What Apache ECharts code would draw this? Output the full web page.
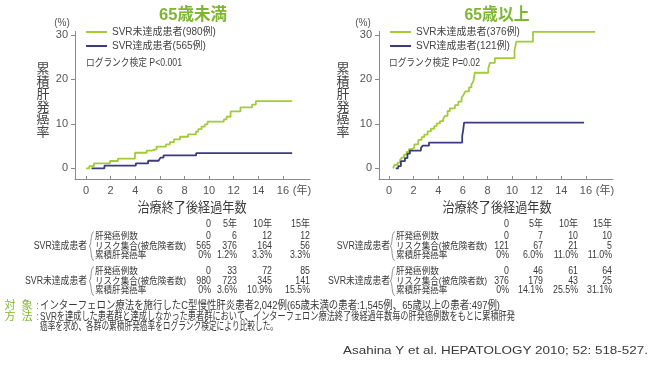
<!DOCTYPE html>
<html><head><meta charset="utf-8">
<script src="https://cdn.jsdelivr.net/npm/echarts@6/dist/echarts.min.js"></script>
<style>html,body{margin:0;padding:0;background:#fff}#c{width:650px;height:368px}</style>
</head><body><div id="c"></div>
<script>
// ---------- data ----------
const xTicks = [0, 2, 4, 6, 8, 10, 12, 14, 16];
const yTicks = [0, 10, 20, 30];
// [years, cumulative incidence %]
const under65NonSVR = [[0,0],[0.27,0.5],[0.65,1.1],[1.95,1.65],[2.6,2.2],[3.98,3.5],[4.93,4.0],[5.33,4.3],[5.74,4.9],[6.5,5.4],[6.82,5.9],[7.15,6.5],[7.63,7.1],[8.3,7.65],[8.93,8.25],[9.12,8.8],[9.39,9.4],[9.66,9.9],[9.88,10.5],[11.2,11.0],[11.42,11.6],[11.75,12.8],[12.55,13.7],[13.5,14.35],[13.8,15.1],[16.75,15.1]];
const under65SVR = [[0.45,0],[1.5,0.6],[4.05,1.1],[5.05,1.7],[5.9,2.1],[6.05,2.4],[6.3,2.9],[8.95,3.4],[16.75,3.4]];
const over65NonSVR = [[0.33,0],[0.45,0.8],[0.7,1.3],[0.9,1.9],[1.05,2.4],[1.22,3.1],[1.43,3.7],[1.62,4.3],[1.84,4.7],[2.06,5.4],[2.38,6.4],[2.65,7.0],[2.87,7.6],[3.14,8.3],[3.41,8.9],[3.68,9.5],[3.87,10.1],[4.14,10.6],[4.41,11.2],[4.55,11.8],[4.76,12.9],[4.95,13.5],[5.36,14.2],[5.63,15.0],[5.9,15.9],[6.05,16.5],[6.2,17.3],[6.5,18.2],[6.7,18.9],[6.85,19.5],[6.97,21.5],[8.07,22.5],[8.2,23.7],[8.6,24.8],[10.2,26.6],[10.35,28.5],[11.7,30.7],[16.75,30.7]];
const over65SVR = [[0.55,0],[0.75,0.5],[0.97,1.6],[1.3,2.3],[1.5,3.3],[1.7,4.0],[2.6,4.6],[2.75,5.1],[3.25,5.8],[5.95,7.3],[6.03,8.6],[6.1,10.3],[15.85,10.3]];

const titles = ['65歳未満', '65歳以上'];
const seriesNames = [['SVR未達成患者(980例)', 'SVR達成患者(565例)'], ['SVR未達成患者(376例)', 'SVR達成患者(121例)']];
const logRank = ['ログランク検定 P<0.001', 'ログランク検定 P=0.02'];
const yName = '累積肝発癌率';
const xName = '治療終了後経過年数';

const tableCols = ['0', '5年', '10年', '15年'];
const rowLabels = ['肝発癌例数', 'リスク集合(被危険者数)', '累積肝発癌率'];
const groupLabels = ['SVR達成患者', 'SVR未達成患者'];
const leftSvrTable = [['0','6','12','12'], ['565','376','164','56'], ['0%','1.2%','3.3%','3.3%']];
const leftNonTable = [['0','33','72','85'], ['980','723','345','141'], ['0%','3.6%','10.9%','15.5%']];
const rightSvrTable = [['0','7','10','10'], ['121','67','21','5'], ['0%','6.0%','11.0%','11.0%']];
const rightNonTable = [['0','46','61','64'], ['376','179','43','25'], ['0%','14.1%','25.5%','31.1%']];

const noteLabels = [['対', '象'], ['方', '法']];
const noteLines = [
  'インターフェロン療法を施行したC型慢性肝炎患者2,042例(65歳未満の患者:1,545例、65歳以上の患者:497例)',
  'SVRを達成した患者群と達成しなかった患者群において、インターフェロン療法終了後経過年数毎の肝発癌例数をもとに累積肝発',
  '癌率を求め、各群の累積肝発癌率をログランク検定により比較した。'
];
const citation = 'Asahina Y et al. HEPATOLOGY 2010; 52: 518-527.';

// ---------- style ----------
const FONT = "'Liberation Sans','Noto Sans CJK JP',sans-serif";
const GREEN = '#a2cb3a', BLUE = '#3d3b7f', GREEN_T = '#7fb631', TXT = '#3a3a3a', AX = '#8a8a8a';
const mctx = document.createElement('canvas').getContext('2d');
function txt(text, x, y, size, o = {}) {
  const weight = o.weight || 'normal';
  let sx = o.scaleX || 1;
  if (o.width) { mctx.font = weight + ' ' + size + 'px ' + FONT; sx = o.width / mctx.measureText(text).width; }
  const align = o.align || 'left';
  const style = { text: text, fontSize: size, fontFamily: FONT, fontWeight: weight, fill: o.color || TXT,
      align: align, textAlign: align, verticalAlign: 'middle', textVerticalAlign: 'middle' };
  if (o.lineHeight) style.lineHeight = o.lineHeight;
  return { type: 'text', x: x, y: y, scaleX: sx, silent: true, z: 10, style: style };
}
function brace(x, top, bottom) {
  const mid = (top + bottom) / 2;
  const st = { stroke: '#777', lineWidth: 0.8, fill: null };
  return [
    { type: 'bezierCurve', silent: true, shape: { x1: x + 3, y1: top, cpx1: x - 1, cpy1: top, cpx2: x + 1, cpy2: mid, x2: x - 2, y2: mid }, style: st },
    { type: 'bezierCurve', silent: true, shape: { x1: x - 2, y1: mid, cpx1: x + 1, cpy1: mid, cpx2: x - 1, cpy2: bottom, x2: x + 3, y2: bottom }, style: st }
  ];
}

// layout per panel
const panels = [
  { gridLeft: 75, gridWidth: 235, xmin: -0.89, titleX: 193, titleW: 68, yNameX: 43, pctX: 62, yearX: 302,
    legendLeft: 86, lrX: 86, lrW: 96, xNameX: 192, labelX: 95, groupR: 87, braceX: 91,
    cols: [211, 237, 272, 310], tables: [leftSvrTable, leftNonTable], data: [under65NonSVR, under65SVR] },
  { gridLeft: 379, gridWidth: 234, xmin: -0.81, titleX: 497, titleW: 65, yNameX: 343, pctX: 363, yearX: 605,
    legendLeft: 390, lrX: 389, lrW: 91, xNameX: 497, labelX: 396, groupR: 390, braceX: 392,
    cols: [509, 543, 578, 612], tables: [rightSvrTable, rightNonTable], data: [over65NonSVR, over65SVR] }
];

const grid = [], xAxis = [], yAxis = [], series = [], legend = [], graphic = [];
const rowY = [[236.7, 246, 255.5], [271.7, 281, 290.5]];
panels.forEach((p, i) => {
  grid.push({ left: p.gridLeft, top: 31.4, width: p.gridWidth, height: 147.6 });
  xAxis.push({ type: 'value', gridIndex: i, min: p.xmin, max: 18.2,
    axisLine: { show: true, onZero: false, lineStyle: { color: AX, width: 1 } },
    axisTick: { show: true, inside: true, length: 3, customValues: xTicks, lineStyle: { color: AX } },
    axisLabel: { customValues: xTicks, color: '#555', fontSize: 11, fontFamily: FONT, margin: 6 },
    splitLine: { show: false } });
  yAxis.push({ type: 'value', gridIndex: i, min: -2.4, max: 30.8,
    axisLine: { show: true, onZero: false, lineStyle: { color: AX, width: 1 } },
    axisTick: { show: true, length: 4, customValues: yTicks, lineStyle: { color: AX } },
    axisLabel: { customValues: yTicks, color: '#555', fontSize: 11, fontFamily: FONT, margin: 7 },
    splitLine: { show: false } });
  [GREEN, BLUE].forEach((c, k) => {
    series.push({ type: 'line', name: seriesNames[i][k], xAxisIndex: i, yAxisIndex: i, step: 'end',
      showSymbol: false, symbol: 'none', data: p.data[k], lineStyle: { color: c, width: 1.8 }, itemStyle: { color: c },
      animation: false, z: k === 0 ? 3 : 4 });
  });
  legend.push({ data: seriesNames[i], left: p.legendLeft, top: 26, padding: 0, orient: 'vertical', icon: 'rect',
    itemWidth: 21, itemHeight: 2, itemGap: 2, selectedMode: false,
    textStyle: { fontSize: 10, fontFamily: FONT, color: '#444', lineHeight: 12 } });

  graphic.push(txt(titles[i], p.titleX, 15, 17, { weight: 'bold', color: GREEN_T, align: 'center', width: p.titleW }));
  graphic.push(txt(logRank[i], p.lrX, 63, 10.5, { color: '#444', width: p.lrW }));
  graphic.push(txt('(%)', p.pctX, 23, 10, { color: '#555', align: 'center' }));
  graphic.push(txt('(年)', p.yearX, 191, 11, { color: '#555', align: 'center' }));
  graphic.push(txt(yName.split('').join('\n'), p.yNameX, 101, 13, { color: '#444', align: 'center', lineHeight: 12.5 }));
  graphic.push(txt(xName, p.xNameX, 208, 13.5, { color: TXT, align: 'center', width: 109 }));
  tableCols.forEach((h, c) => graphic.push(txt(h, p.cols[c], 224.3, 10, { align: 'right', scaleX: 0.9 })));
  p.tables.forEach((tbl, g) => {
    graphic.push(txt(groupLabels[g], p.groupR, rowY[g][1], 10, { align: 'right', scaleX: 0.88 }));
    brace(p.braceX, rowY[g][0] - 5, rowY[g][2] + 5).forEach(e => graphic.push(e));
    tbl.forEach((row, r) => {
      graphic.push(txt(rowLabels[r], p.labelX, rowY[g][r], 9.5, { scaleX: 0.9 }));
      row.forEach((v, c) => graphic.push(txt(v, p.cols[c], rowY[g][r], 10, { align: 'right', scaleX: 0.88 })));
    });
  });
});

const noteY = [306, 316.7, 326.5];
noteLabels.forEach((lab, r) => {
  graphic.push(txt(lab[0], 10, noteY[r], 11, { color: GREEN_T, align: 'center' }));
  graphic.push(txt(lab[1], 27, noteY[r], 11, { color: GREEN_T, align: 'center' }));
  graphic.push(txt(':', 37.5, noteY[r], 11, { color: '#8a9a6a', align: 'center' }));
});
const noteW = [460, 475, 238];
noteLines.forEach((t, r) => graphic.push(txt(t, 40, noteY[r], 11.5, { color: TXT, width: noteW[r] })));
graphic.push(txt(citation, 648, 351, 11.5, { color: TXT, align: 'right', width: 305 }));

const chart = echarts.init(document.getElementById('c'), null, { renderer: 'canvas' });
chart.setOption({ backgroundColor: '#fff', animation: false, grid, xAxis, yAxis, series, legend, graphic });
</script></body></html>
